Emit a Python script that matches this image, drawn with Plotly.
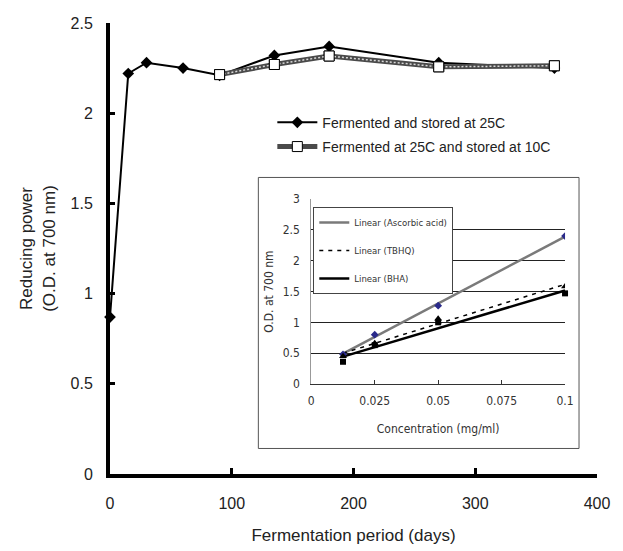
import numpy as np
import plotly.graph_objects as go

# ---- main chart data ----
days_25 = [0, 15, 30, 60, 90, 135, 180, 270, 365]
rp_25 = [0.87, 2.22, 2.28, 2.25, 2.21, 2.32, 2.37, 2.28, 2.25]
days_10 = [90, 135, 180, 270, 365]
rp_10 = [2.214, 2.27, 2.317, 2.257, 2.263]
x_ticks = [0, 100, 200, 300, 400]
y_ticks = [0, 0.5, 1, 1.5, 2, 2.5]
y_ticktext = ["0", "0.5", "1", "1.5", "2", "2.5"]

# ---- inset data ----
conc = [0.0125, 0.025, 0.05, 0.1]
od_ascorbic = [0.48, 0.80, 1.27, 2.40]
od_tbhq = [0.45, 0.66, 1.06, 1.58]
od_bha = [0.36, 0.63, 1.00, 1.47]
inset_xticks = [0, 0.025, 0.05, 0.075, 0.1]
inset_xticktext = ["0", "0.025", "0.05", "0.075", "0.1"]
inset_yticks = [0, 0.5, 1, 1.5, 2, 2.5, 3]
inset_yticktext = ["0", "0.5", "1", "1.5", "2", "2.5", "3"]

OFF = 8  # page body margin
W, H = 623 - OFF, 551 - OFF
L, R, T, B = 109.5 - OFF, 26, 15.7 - OFF, 76
pw, ph = W - L - R, H - T - B


def px_x(p):
    return (p - OFF - L) / pw


def px_y(p):
    return (H - B - (p - OFF)) / ph


MAINF = "Liberation Sans, Arial, sans-serif"
NARROW = "Liberation Sans Narrow, DejaVu Sans Condensed, Liberation Sans, sans-serif"

fig = go.Figure()

# series 1
fig.add_trace(go.Scatter(
    x=days_25, y=rp_25, mode="lines+markers", name="Fermented and stored at 25C",
    line=dict(color="black", width=2),
    marker=dict(symbol="diamond", size=9, color="black"),
    cliponaxis=False, legend="legend", legendgroup="a",
))
# series 2 (hatched grey line)
fig.add_trace(go.Scatter(
    x=days_10, y=rp_10, mode="lines+markers", name="Fermented at 25C and stored at 10C",
    line=dict(color="#4a4a4a", width=5),
    marker=dict(symbol="square", size=10, color="white", line=dict(color="black", width=1)),
    cliponaxis=False, legend="legend", legendgroup="b",
))
fig.add_trace(go.Scatter(
    x=days_10, y=rp_10, mode="lines", showlegend=False,
    line=dict(color="#d8d8d8", width=1.5, dash="2px,2px"), hoverinfo="skip",
))
fig.add_trace(go.Scatter(
    x=days_10, y=rp_10, mode="markers", showlegend=False,
    marker=dict(symbol="square", size=10, color="white", line=dict(color="black", width=1)),
    cliponaxis=False,
))

# inset trendlines (least squares of the plotted points)
cx = np.array(conc)
fits = []
for ys in (od_ascorbic, od_tbhq, od_bha):
    m, c = np.polyfit(cx, np.array(ys), 1)
    fits.append((m, c))
x_line = np.array([conc[0], conc[-1]])

fig.add_trace(go.Scatter(
    x=x_line, y=fits[0][0] * x_line + fits[0][1], mode="lines", name="Linear (Ascorbic acid)",
    line=dict(color="#7a7a7a", width=2.5), xaxis="x2", yaxis="y2", legend="legend2",
    legendgroup="i1",
))
fig.add_trace(go.Scatter(
    x=x_line, y=fits[1][0] * x_line + fits[1][1], mode="lines", name="Linear (TBHQ)",
    line=dict(color="black", width=1.5, dash="4px,5px"), xaxis="x2", yaxis="y2", legend="legend2",
    legendgroup="i2",
))
fig.add_trace(go.Scatter(
    x=x_line, y=fits[2][0] * x_line + fits[2][1], mode="lines", name="Linear (BHA)",
    line=dict(color="black", width=2.5), xaxis="x2", yaxis="y2", legend="legend2",
    legendgroup="i3",
))
fig.add_trace(go.Scatter(
    x=conc, y=od_ascorbic, mode="markers", showlegend=False,
    marker=dict(symbol="diamond", size=6, color="#2a2a8a"), xaxis="x2", yaxis="y2",
))
fig.add_trace(go.Scatter(
    x=conc, y=od_tbhq, mode="markers", showlegend=False,
    marker=dict(symbol="triangle-up", size=7, color="black"), xaxis="x2", yaxis="y2",
))
fig.add_trace(go.Scatter(
    x=conc, y=od_bha, mode="markers", showlegend=False,
    marker=dict(symbol="square", size=6, color="black"), xaxis="x2", yaxis="y2",
    cliponaxis=False,
))

fig.update_layout(
    width=W, height=H,
    margin=dict(l=L, r=R, t=T, b=B),
    paper_bgcolor="white", plot_bgcolor="white",
    font=dict(family=MAINF, color="#222"),
    showlegend=True,
    xaxis=dict(
        range=[0, 400], tickvals=x_ticks, ticktext=[str(v) for v in x_ticks],
        showline=True, linecolor="black", linewidth=4, showgrid=False, zeroline=False,
        ticks="inside", ticklen=6, tickwidth=3, tickcolor="black",
        tickfont=dict(size=16, color="#222"), ticklabelstandoff=12,
        title=dict(text="Fermentation period (days)", font=dict(size=17, color="#222"), standoff=19),
    ),
    yaxis=dict(
        range=[0, 2.5], tickvals=y_ticks, ticktext=y_ticktext,
        showline=True, linecolor="black", linewidth=4, showgrid=False, zeroline=False,
        ticks="inside", ticklen=5, tickwidth=3, tickcolor="black",
        tickfont=dict(size=16, color="#222"), ticklabelstandoff=10,
        title=dict(text="Reducing power<br>(O.D. at 700 nm)", font=dict(size=17, color="#222"), standoff=12),
    ),
    xaxis2=dict(
        domain=[px_x(311), px_x(565)], anchor="y2",
        range=[0, 0.1], tickvals=inset_xticks, ticktext=inset_xticktext,
        showline=True, linecolor="#333", linewidth=1, showgrid=False, zeroline=False,
        ticks="inside", ticklen=4, tickwidth=1, tickcolor="#333",
        tickfont=dict(size=12, family=NARROW, color="#333"), ticklabelstandoff=6,
        title=dict(text="Concentration (mg/ml)", font=dict(size=12, family=NARROW, color="#333"), standoff=17),
    ),
    yaxis2=dict(
        domain=[px_y(383.3), px_y(195)], anchor="x2",
        range=[0, 3], tickvals=inset_yticks, ticktext=inset_yticktext,
        showline=True, linecolor="#999", linewidth=1, showgrid=True, gridcolor="#222", gridwidth=1,
        zeroline=False, ticks="", tickfont=dict(size=12, family=NARROW, color="#333"),
        ticklabelstandoff=8,
        title=dict(text="O.D. at 700 nm", font=dict(size=12, family=NARROW, color="#333"), standoff=6),
    ),
    legend=dict(
        x=px_x(272), y=px_y(101), xanchor="left", yanchor="top",
        bgcolor="rgba(0,0,0,0)", borderwidth=0, traceorder="grouped", tracegroupgap=3,
        font=dict(size=14, family=MAINF, color="#222"), itemwidth=40,
    ),
    legend2=dict(
        x=px_x(313), y=px_y(203), xanchor="left", yanchor="top",
        bgcolor="white", bordercolor="#444", borderwidth=1, traceorder="grouped", tracegroupgap=9,
        font=dict(size=9.5, family=NARROW, color="#333"), itemwidth=30,
    ),
    shapes=[dict(
        type="rect", xref="paper", yref="paper",
        x0=px_x(258), x1=px_x(579), y0=px_y(449), y1=px_y(173),
        fillcolor="white", line=dict(color="#555", width=1), layer="below",
    )],
)

fig.write_html("out.html")
